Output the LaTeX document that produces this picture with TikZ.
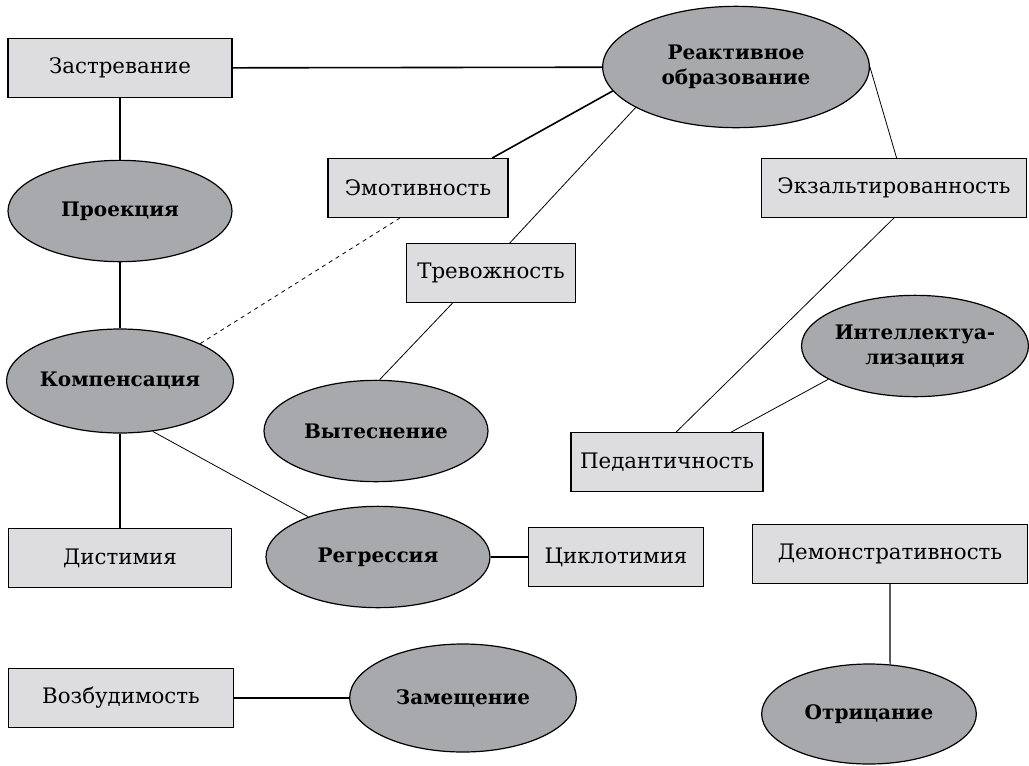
\documentclass[tikz,border=0pt]{standalone}
\usepackage{fontspec}
\setmainfont{DejaVu Serif}
\usepackage{tikz}
\usetikzlibrary{shapes.geometric, positioning, calc}
\definecolor{boxGray}{RGB}{221,221,223}
\definecolor{ellGray}{RGB}{168,169,172}

\begin{document}
\begin{tikzpicture}[
				x=0.75pt, y=-0.75pt,
				box/.style={draw, fill=boxGray, line width=0.9pt, minimum height=44pt, inner sep=0pt, font=\fontsize{16}{19}\selectfont},
				ell/.style={draw, ellipse, fill=ellGray, line width=0.9pt, minimum width=168pt, minimum height=76pt, inner sep=0pt, align=center, font=\fontsize{15}{19}\selectfont\bfseries},
				thinline/.style={line width=0.6pt},
				medline/.style={line width=0.85pt},
				thickline/.style={line width=1.2pt}
			]
				\useasboundingbox (0,0) rectangle (1029,765);

				% rectangles
				\node[box, minimum width=168pt] (zastr) at (120,68) {Застревание};
				\node[box, minimum width=135pt] (emot) at (418,188) {Эмотивность};
				\node[box, minimum width=199pt] (ekzalt) at (894,188) {Экзальтированность};
				\node[box, minimum width=127pt] (trevozh) at (491,273) {Тревожность};
				\node[box, minimum width=144pt] (pedant) at (667,462) {Педантичность};
				\node[box, minimum width=167pt] (distim) at (120,558) {Дистимия};
				\node[box, minimum width=131pt] (cyclo) at (616,557) {Циклотимия};
				\node[box, minimum width=206pt] (demonstr) at (890,554) {Демонстративность};
				\node[box, minimum width=169pt] (vozb) at (121,698) {Возбудимость};

				% ellipses
				\node[ell, minimum width=200pt, minimum height=91pt] (reakt) at (736,67) {Реактивное\\образование};
				\node[ell] (proek) at (120,211) {Проекция};
				\node[ell, minimum height=78pt] (kompens) at (120,381) {Компенсация};
				\node[ell] (vytesn) at (376,431) {Вытеснение};
				\node[ell] (intell) at (915,346) {Интеллектуа-\\лизация};
				\node[ell] (regress) at (378,557) {Регрессия};
				\node[ell, minimum width=170pt, minimum height=81pt] (zamesch) at (463,698) {Замещение};
				\node[ell, minimum width=161pt, minimum height=75pt] (otric) at (869,714) {Отрицание};

				% links
				\draw[thickline] (zastr) -- (reakt);
				\draw[thickline] (zastr) -- (proek);
				\draw[thickline] (emot.22) -- (reakt.191);
				\draw[thinline] (trevozh.58) -- (reakt.202);
				\draw[thinline] (reakt.east) -- (ekzalt.85);
				\draw[thinline, dashed] (emot.239) -- (kompens.25);
				\draw[thinline] (trevozh.218) -- (vytesn.86);
				\draw[medline] (proek) -- (kompens);
				\draw[medline] (kompens) -- (distim);
				\draw[thinline] (kompens.303) -- (regress.150);
				\draw[medline] (regress) -- (cyclo);
				\draw[thinline] (ekzalt.south) -- (pedant.73);
				\draw[thinline] (intell.201) -- (pedant.25);
				\draw[medline] (demonstr.south) -- (otric.67);
				\draw[medline] (vozb) -- (zamesch);
			\end{tikzpicture}
\end{document}
